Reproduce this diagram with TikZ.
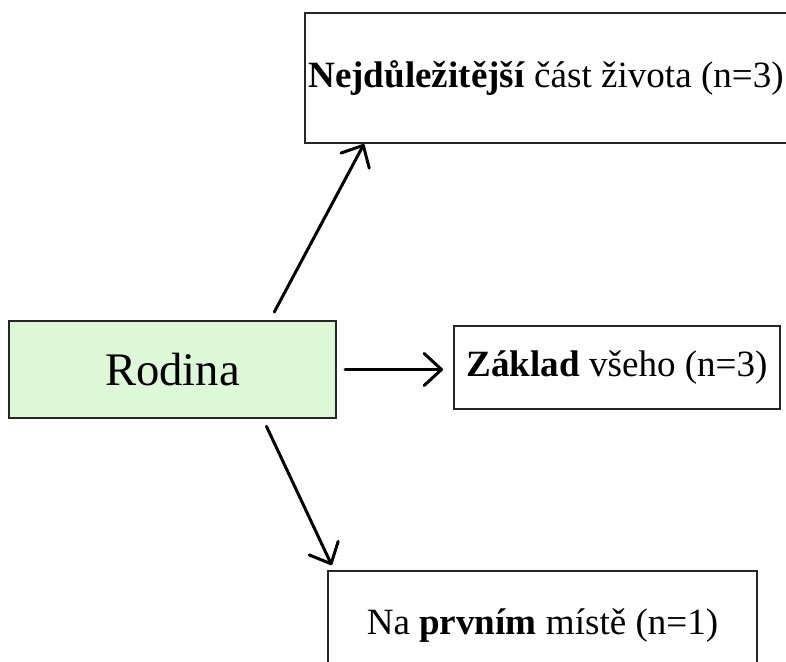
\documentclass[tikz,border=0pt]{standalone}
\usepackage{fontspec}
\setmainfont{Liberation Serif}
\usetikzlibrary{arrows.meta,calc}
\definecolor{famgreen}{RGB}{220,248,214}
\tikzset{
  box/.style={draw=black!85, line width=1.5pt, fill=white, inner sep=0pt,
    font=\fontsize{27.8}{33}\selectfont},
  arr/.style={line width=2.25pt, line cap=round,
    -{Straight Barb[length=13pt,width=24pt,round]}},
}

\begin{document}
\begin{tikzpicture}[x=0.75pt,y=-0.75pt]
    \useasboundingbox (0,0) rectangle (786,661);
    \clip (0,0) rectangle (786,661);
    \path
        (172.5,369.5) node(rodina)[box, fill=famgreen, minimum width=327*0.75pt, minimum height=97*0.75pt, font=\fontsize{35}{40}\selectfont]{Rodina}
        (546,78) node(top)[box, minimum width=482*0.75pt, minimum height=130*0.75pt]{\textbf{Nejdůležitější} část života (n=3)}
        (617,367.5) node(zaklad)[box, minimum width=326*0.75pt, minimum height=83*0.75pt]{\textbf{Základ} všeho (n=3)}
        (542.5,625.5) node(prvni)[box, minimum width=429*0.75pt, minimum height=109*0.75pt]{Na \textbf{prvním} místě (n=1)};
    \draw [arr, shorten <=6.75pt] ($(rodina.north west)+(262,0)$) -- ($(top.south west)+(60,0)$);
    \draw [arr, shorten <=6pt, shorten >=7.5pt] (rodina.east) -- (rodina.east -| zaklad.west);
    \draw [arr, shorten <=6pt, shorten >=4pt] ($(rodina.south west)+(255,0)$) -- ($(prvni.north west)+(7,0)$);
\end{tikzpicture}
\end{document}
